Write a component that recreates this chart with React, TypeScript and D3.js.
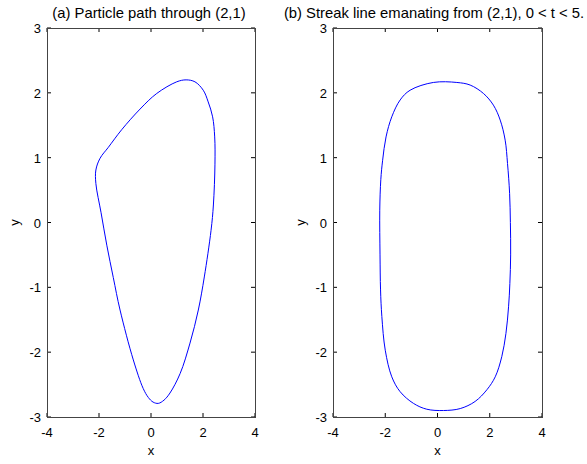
import React from "react";
import * as d3 from "d3";

const xTicks = [-4, -2, 0, 2, 4];
const yTicks = [-3, -2, -1, 0, 1, 2, 3];

const titleA = "(a) Particle path through (2,1)";
const titleB = "(b) Streak line emanating from (2,1), 0 < t < 5.";

const pathX = [1.35, 1.69, 2.01, 2.2, 2.37, 2.45, 2.46, 2.4, 2.31, 2.05, 1.82, 1.5, 1.12, 0.73, 0.5, 0.28, 0.08, -0.1, -0.3, -0.68, -1.19, -1.45, -1.7, -1.92, -2.12, -2.12, -1.96, -1.64, -1.13, -0.42, 0.22, 0.99];
const pathY = [2.2, 2.17, 2.04, 1.86, 1.63, 1.32, 0.9, 0.27, -0.12, -0.84, -1.35, -1.86, -2.33, -2.63, -2.74, -2.79, -2.77, -2.7, -2.56, -2.12, -1.35, -0.85, -0.35, 0.15, 0.6, 0.81, 0.99, 1.16, 1.43, 1.75, 1.99, 2.17];

const streakX = [-0.16, 0.74, 1.25, 1.76, 2.14, 2.4, 2.59, 2.68, 2.76, 2.79, 2.8, 2.77, 2.72, 2.62, 2.46, 2.21, 1.89, 1.44, 0.87, 0.23, -0.41, -0.92, -1.43, -1.75, -2.0, -2.13, -2.18, -2.2, -2.21, -2.17, -2.1, -1.97, -1.75, -1.43, -1.05];
const streakY = [2.16, 2.16, 2.12, 1.99, 1.81, 1.58, 1.27, 0.91, 0.45, 0.0, -0.5, -0.94, -1.3, -1.71, -2.07, -2.38, -2.58, -2.76, -2.87, -2.9, -2.88, -2.79, -2.61, -2.38, -1.97, -1.45, -1.04, -0.5, 0.19, 0.66, 0.96, 1.32, 1.63, 1.89, 2.04];

const FONT = "Arial, 'Liberation Sans', sans-serif";

function Panel({ x0, x1, title, xs, ys, titleX }: { x0: number; x1: number; title: string; xs: number[]; ys: number[]; titleX: number }) {
  const top = 28;
  const bottom = 417;
  const x = d3.scaleLinear().domain([-4, 4]).range([x0, x1]);
  const y = d3.scaleLinear().domain([-3, 3]).range([bottom, top]);
  const pts: [number, number][] = xs.map((v, i) => [v, ys[i]]);
  const line = d3
    .line<[number, number]>()
    .x((d) => x(d[0]))
    .y((d) => y(d[1]))
    .curve(d3.curveCatmullRomClosed.alpha(0.5));
  const tl = 4;
  return (
    <g>
      <rect x={x0} y={top} width={x1 - x0} height={bottom - top} fill="white" stroke="none" />
      <path d={line(pts) || ""} fill="none" stroke="#0000ff" strokeWidth={1} />
      {xTicks.map((t) => (
        <g key={"x" + t}>
          <line x1={x(t)} x2={x(t)} y1={bottom} y2={bottom - tl} stroke="#000" />
          <line x1={x(t)} x2={x(t)} y1={top} y2={top + tl} stroke="#000" />
          <text x={x(t)} y={437} textAnchor="middle" fontSize={13} fontFamily={FONT} fill="#000">
            {t}
          </text>
        </g>
      ))}
      {yTicks.map((t) => (
        <g key={"y" + t}>
          <line x1={x0} x2={x0 + tl} y1={y(t)} y2={y(t)} stroke="#000" />
          <line x1={x1} x2={x1 - tl} y1={y(t)} y2={y(t)} stroke="#000" />
          <text x={x0 - 6} y={y(t) + 5} textAnchor="end" fontSize={13} fontFamily={FONT} fill="#000">
            {t}
          </text>
        </g>
      ))}
      <rect x={x0 + 0.5} y={top + 0.5} width={x1 - x0} height={bottom - top} fill="none" stroke="#444" strokeWidth={1} />
      <text x={(x0 + x1) / 2} y={455} textAnchor="middle" fontSize={13} fontFamily={FONT} fill="#000">
        x
      </text>
      <text
        transform={`translate(${x0 - 28},${(top + bottom) / 2}) rotate(-90)`}
        textAnchor="middle"
        fontSize={13}
        fontFamily={FONT}
        fill="#000"
      >
        y
      </text>
      <text x={titleX} y={18} textAnchor="middle" fontSize={14.8} fontFamily={FONT} fill="#000">
        {title}
      </text>
    </g>
  );
}

export default function App() {
  return (
    <svg
      width={587}
      height={464}
      style={{ position: "absolute", left: 0, top: 0, background: "white" }}
    >
      <rect width={587} height={464} fill="white" />
      <Panel x0={47} x1={255} title={titleA} xs={pathX} ys={pathY} titleX={149} />
      <Panel x0={333} x1={542} title={titleB} xs={streakX} ys={streakY} titleX={434} />
    </svg>
  );
}
